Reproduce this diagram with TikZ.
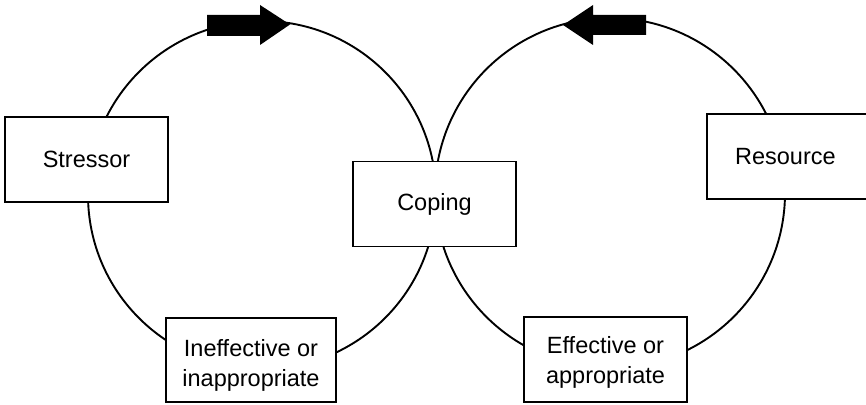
\documentclass[tikz,border=0pt]{standalone}
\usepackage{fontspec}
\setmainfont{Liberation Sans}
\begin{document}
\begin{tikzpicture}[x=1pt, y=-1pt,
  box/.style={draw, fill=white, line width=1.8pt, minimum width=163pt,
    minimum height=85pt, inner sep=0pt, align=center,
    font=\fontsize{23.5}{30}\selectfont},
  loop/.style={draw, line width=1.9pt},
  blockarrow/.style={fill=black, draw=none}]
\useasboundingbox (0,0) rectangle (866,404);
\clip (0,0) rectangle (866,404);

% the two feedback loops
\coordinate (lc) at (262,195);
\coordinate (rc) at (610,193);
\draw[loop] (lc) circle[radius=174];
\draw[loop] (rc) circle[radius=175];

% direction arrows sitting on top of each loop
\fill[blockarrow] (207,15) -- (260,15) -- (260,5) -- (290,24.5)
  -- (260,45) -- (260,36) -- (207,36) -- cycle;
\fill[blockarrow] (646,15) -- (593,15) -- (593,5) -- (563,25)
  -- (593,45) -- (593,35) -- (646,35) -- cycle;

% boxes on the loops (the struts give the two-line labels a little top room)
\node[box] (stressor) at (86.5,159.5) {Stressor};
\node[box] (coping) at (434.5,204) {Coping};
\node[box, minimum width=170pt, anchor=west] (resource) at (706,156.5)
  {Resource\hspace*{13pt}};
\node[box, minimum width=170pt, minimum height=84pt] (ineffective)
  at (251,360) {\rule{0pt}{27pt}Ineffective or\\inappropriate};
\node[box] (effective) at (605.5,359.5)
  {\rule{0pt}{23pt}Effective or\\appropriate};
\end{tikzpicture}
\end{document}
